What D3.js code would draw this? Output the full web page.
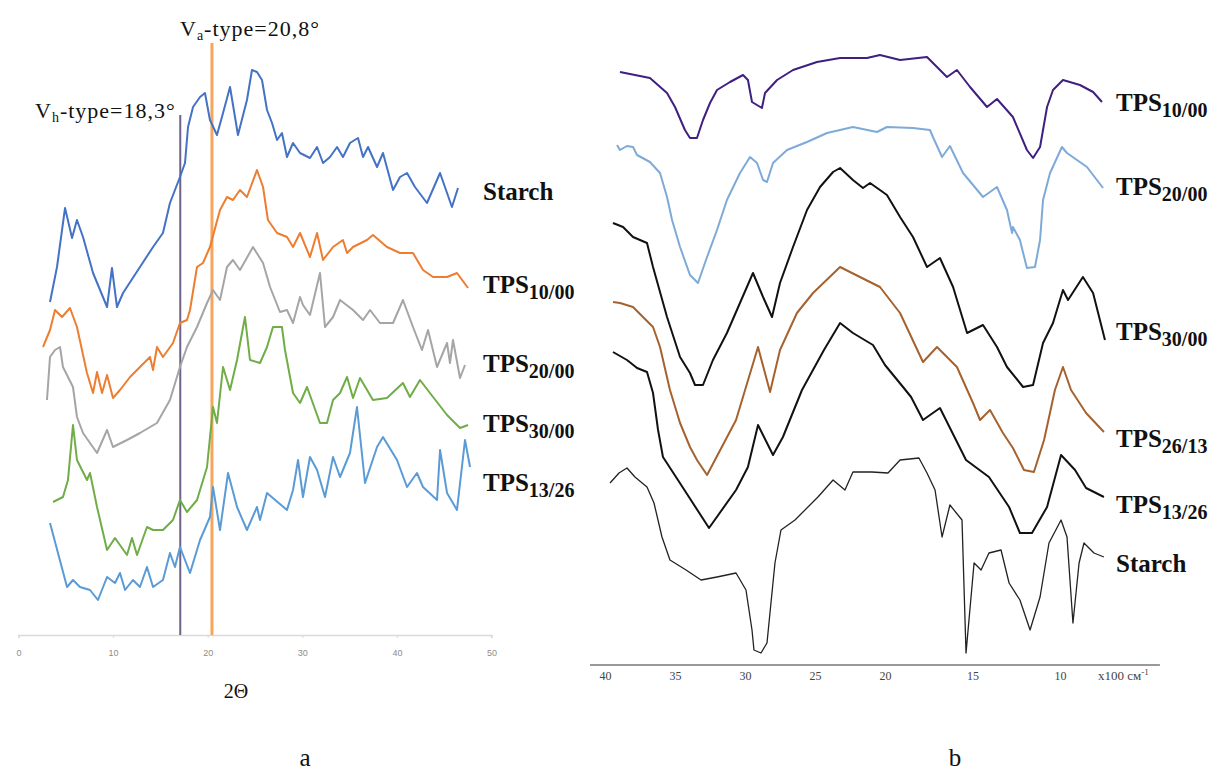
<!DOCTYPE html>
<html>
<head>
<meta charset="utf-8">
<script src="https://cdn.jsdelivr.net/npm/d3@7"></script>
<style>
  body { margin: 0; background: #fff; }
  svg { display: block; }
</style>
</head>
<body>
<div id="chart"></div>
<script>
// ---- panel a: XRD, [2theta, intensity a.u. (offset)] ----
const xrdStarch = [[3.33,333],[4.07,368],[4.92,427],[5.66,397],[6.18,415],[6.82,398],[7.88,362],[9.36,328],[9.88,367],[10.41,328],[11.05,342],[12.84,368],[14.22,388],[15.27,402],[16.01,432],[17.07,458],[17.6,472],[17.92,508],[18.45,528],[19.19,538],[19.71,542],[20.24,515],[20.98,500],[21.62,522],[22.36,548],[23.2,500],[24.15,535],[24.68,565],[25.21,563],[25.74,555],[26.27,525],[26.8,512],[27.33,495],[27.85,502],[28.38,478],[29.02,492],[29.76,482],[30.81,477],[31.56,488],[32.19,472],[32.93,478],[33.67,488],[34.3,478],[35.04,492],[35.89,497],[36.42,478],[36.95,488],[37.9,468],[38.53,482],[39.59,445],[40.33,458],[41.07,462],[41.91,448],[43.18,432],[44.56,462],[45.82,428],[46.46,447]];
const xrdTps1000 = [[2.59,288],[3.33,305],[3.86,325],[4.6,318],[5.44,327],[6.18,308],[7.24,262],[7.88,242],[8.3,263],[8.83,242],[9.36,260],[9.99,237],[10.73,245],[11.79,258],[12.84,268],[13.9,278],[14.22,265],[14.64,288],[15.27,278],[16.33,292],[17.07,312],[17.81,315],[18.13,325],[18.87,368],[19.5,372],[20.24,388],[21.3,425],[22.04,438],[22.67,435],[23.41,445],[24.15,438],[25.21,465],[25.85,448],[26.37,415],[27.33,402],[28.38,398],[29.02,388],[29.76,402],[30.81,378],[31.56,402],[32.19,375],[33.25,388],[34.3,395],[34.73,382],[35.36,388],[36.84,395],[37.47,400],[38.95,388],[40.33,382],[41.7,382],[42.76,365],[43.82,358],[45.3,358],[46.35,362],[47.52,347]];
const xrdTps2000 = [[3.01,235],[3.33,278],[3.86,285],[4.39,288],[4.7,268],[5.76,248],[6.18,218],[6.82,202],[8.3,182],[9.36,205],[9.99,188],[11.47,195],[12.84,202],[14.64,212],[16.01,235],[17.07,268],[17.81,288],[18.87,308],[19.93,332],[20.56,345],[21.3,335],[22.04,368],[22.67,375],[23.41,365],[24.79,388],[25.85,372],[26.59,348],[27.64,323],[28.38,325],[29.02,312],[29.76,338],[30.07,330],[30.81,320],[31.87,362],[32.4,308],[33.25,318],[33.99,335],[35.36,325],[36.42,315],[37.16,325],[38.21,312],[39.59,312],[40.64,335],[41.7,308],[42.65,285],[43.29,305],[44.24,268],[45.3,292],[45.61,272],[45.93,295],[46.67,257],[47.2,270]];
const xrdTps3000 = [[3.65,133],[4.7,138],[5.23,155],[5.76,210],[6.18,175],[7.24,155],[7.56,162],[8.3,128],[9.36,85],[10.2,97],[11.47,80],[12.0,97],[12.53,80],[13.58,108],[14.22,105],[15.27,105],[16.33,115],[17.07,135],[17.81,123],[18.87,135],[19.93,168],[20.56,228],[20.98,212],[21.62,268],[22.36,245],[23.1,275],[23.94,318],[24.47,275],[25.53,272],[26.27,288],[26.9,308],[27.85,308],[28.17,285],[29.02,242],[29.76,232],[30.5,248],[31.87,212],[32.61,212],[33.25,235],[33.99,242],[34.73,258],[35.36,237],[36.1,257],[37.47,235],[38.95,237],[40.64,252],[41.38,238],[42.44,255],[43.82,238],[45.3,220],[46.67,207],[47.52,210]];
const xrdTps1326 = [[3.33,112],[5.13,48],[5.76,55],[6.5,48],[7.56,45],[8.4,35],[9.36,58],[10.2,52],[10.73,62],[11.26,45],[12.1,55],[12.84,48],[13.58,68],[14.22,48],[15.27,55],[16.01,82],[16.54,68],[17.07,88],[18.13,62],[19.19,95],[20.24,118],[20.56,148],[21.3,105],[22.15,162],[23.1,128],[24.15,105],[25.21,128],[25.53,115],[26.27,142],[28.38,125],[29.02,145],[29.55,175],[30.07,138],[30.81,178],[31.56,165],[32.4,138],[33.25,178],[33.99,158],[35.04,182],[35.78,228],[36.63,152],[37.9,188],[38.53,198],[40.01,175],[41.07,148],[42.12,162],[42.76,148],[44.24,135],[44.56,185],[45.3,142],[46.35,125],[47.2,195],[47.73,168]];
const xrdTicks = [0, 10, 20, 30, 40, 50];
// marker lines: [2theta, top intensity]
const vhLine = [17.1, 520];
const vaLine = [20.45, 592];

// ---- panel b: FTIR, [wavenumber x100 cm-1, transmittance a.u. (offset)] ----
const ftirTps1000 = [[38.93,593],[36.79,587],[35.57,572],[35.0,558],[34.29,535],[33.93,527],[33.43,527],[33.0,545],[32.5,562],[32.0,575],[31.07,583],[30.14,590],[29.79,585],[29.5,563],[28.79,557],[28.57,572],[27.71,585],[26.57,595],[24.86,603],[23.21,607],[21.29,607],[20.36,610],[19.14,605],[17.6,608],[16.46,588],[15.89,595],[15.14,578],[14.17,558],[13.6,566],[12.69,548],[11.89,515],[11.54,507],[11.14,518],[10.74,558],[10.4,575],[9.83,585],[8.86,580],[8.11,573],[7.6,563]];
const ftirTps2000 = [[39.14,520],[38.93,515],[38.43,519],[38.0,518],[37.71,510],[36.79,503],[36.07,492],[35.57,468],[35.21,445],[34.64,418],[33.93,390],[33.36,382],[32.71,408],[32.0,435],[31.29,465],[30.36,492],[29.64,508],[29.14,502],[28.71,485],[28.43,483],[28.0,502],[27.0,515],[25.57,523],[24.14,532],[22.29,538],[20.57,533],[19.89,538],[18.4,537],[17.43,535],[17.26,528],[16.74,508],[16.29,519],[15.54,492],[14.4,468],[13.6,478],[13.03,455],[12.74,432],[12.69,438],[12.29,425],[11.89,397],[11.43,398],[11.14,425],[10.97,465],[10.57,492],[9.89,518],[9.6,512],[8.46,498],[7.54,477]];
const ftirTps3000 = [[39.43,442],[38.71,438],[38.0,428],[37.0,422],[36.57,398],[35.57,348],[34.64,308],[33.93,292],[33.57,280],[33.0,280],[32.29,305],[31.29,332],[30.36,362],[29.43,392],[28.71,368],[28.07,348],[27.5,382],[26.57,418],[25.57,455],[24.64,478],[23.71,493],[23.21,497],[22.29,485],[21.57,477],[21.07,482],[20.36,475],[19.89,470],[19.14,448],[18.4,428],[17.6,398],[16.86,407],[16.11,378],[15.31,332],[14.4,340],[13.6,318],[13.03,298],[12.11,278],[11.54,280],[10.97,322],[10.4,342],[9.83,375],[9.54,365],[8.69,388],[8.11,372],[7.43,325]];
const ftirTps2613 = [[39.43,363],[38.93,362],[38.0,358],[37.29,348],[36.57,338],[36.07,318],[35.36,275],[34.64,242],[33.93,218],[33.43,205],[32.71,190],[30.64,245],[29.07,318],[28.21,273],[27.5,315],[26.29,352],[25.14,372],[23.21,398],[21.79,388],[20.36,378],[19.14,352],[17.83,303],[17.03,318],[15.89,298],[14.97,262],[14.57,245],[14.0,255],[13.26,232],[12.69,217],[12.06,195],[11.49,193],[10.91,225],[10.29,275],[9.83,298],[9.37,275],[8.51,252],[7.49,233]];
const ftirTps1326 = [[39.43,313],[38.43,305],[37.71,297],[37.0,293],[36.57,272],[36.21,235],[35.86,208],[34.79,185],[32.57,137],[30.64,175],[29.79,198],[29.07,240],[28.0,210],[27.29,228],[25.93,275],[24.36,315],[23.21,342],[22.29,332],[20.86,320],[20.0,300],[18.97,278],[18.51,268],[17.83,245],[16.86,257],[15.37,205],[14.06,188],[12.91,158],[12.29,132],[11.6,132],[10.74,158],[9.94,210],[9.14,195],[8.51,177],[7.49,168]];
const ftirStarch = [[39.64,182],[39.0,192],[38.43,197],[37.86,188],[37.0,178],[36.5,162],[35.93,128],[35.36,105],[34.21,95],[33.14,85],[32.0,88],[30.64,92],[29.93,75],[29.5,35],[29.36,15],[28.86,12],[28.43,22],[27.86,102],[27.43,135],[26.43,145],[24.79,168],[23.71,185],[22.86,175],[22.29,193],[20.93,193],[19.83,192],[19.14,205],[18.06,207],[17.6,192],[17.14,175],[16.74,128],[16.29,160],[15.6,145],[15.37,12],[14.91,102],[14.51,95],[14.06,112],[13.37,115],[12.91,82],[12.29,65],[11.71,35],[11.14,68],[10.63,122],[9.94,145],[9.6,128],[9.26,42],[8.91,102],[8.63,122],[8.06,112],[7.49,108]];
const ftirTicks = [40, 35, 30, 25, 20, 15, 10];

const xrdNames = [["Starch", ""], ["TPS", "10/00"], ["TPS", "20/00"], ["TPS", "30/00"], ["TPS", "13/26"]];
const ftirNames = [["TPS", "10/00"], ["TPS", "20/00"], ["TPS", "30/00"], ["TPS", "26/13"], ["TPS", "13/26"], ["Starch", ""]];

const width = 1210, height = 776;
const svg = d3.select("#chart").append("svg")
  .attr("width", width)
  .attr("height", height);

const serif = "'Liberation Serif', 'Times New Roman', serif";

// ---------- panel a ----------
const xL = d3.scaleLinear().domain([0, 50]).range([18.5, 491.5]);
const yL = d3.scaleLinear().domain([0, 600]).range([635, 35]);

const lineL = d3.line().x(d => xL(d[0])).y(d => yL(d[1]));

const ga = svg.append("g");

ga.append("g")
  .attr("transform", `translate(0,${yL(0)})`)
  .call(d3.axisBottom(xL).tickValues(xrdTicks).tickSize(3).tickPadding(12))
  .call(g => g.select(".domain").attr("stroke", "#d9d9d9").attr("stroke-width", 1.5))
  .call(g => g.selectAll(".tick line").attr("stroke", "#d9d9d9"))
  .call(g => g.selectAll(".tick text")
    .attr("fill", "#8c8c8c")
    .attr("font-family", "'Liberation Sans', Arial, sans-serif")
    .attr("font-size", 9));

// marker lines
ga.append("line")
  .attr("x1", xL(vhLine[0])).attr("x2", xL(vhLine[0]))
  .attr("y1", yL(vhLine[1])).attr("y2", yL(0))
  .attr("stroke", "#6e6288").attr("stroke-width", 2);
ga.append("line")
  .attr("x1", xL(vaLine[0])).attr("x2", xL(vaLine[0]))
  .attr("y1", yL(vaLine[1])).attr("y2", yL(0))
  .attr("stroke", "#f6a65c").attr("stroke-width", 3);

const xrdSeries = [xrdStarch, xrdTps1000, xrdTps2000, xrdTps3000, xrdTps1326];
const xrdColors = ["#4472c4", "#ed7d31", "#a5a5a5", "#70ad47", "#5b9bd5"];
const xrdLabelY = [200, 293, 372, 432, 491];

ga.selectAll("path.xrd")
  .data(xrdSeries)
  .join("path")
  .attr("class", "xrd")
  .attr("d", lineL)
  .attr("fill", "none")
  .attr("stroke", (d, i) => xrdColors[i])
  .attr("stroke-width", 2)
  .attr("stroke-linejoin", "round");

function label(g, x, y, parts, size, subSize, bold, spacing) {
  const t = g.append("text")
    .attr("x", x).attr("y", y)
    .attr("font-family", serif)
    .attr("font-size", size)
    .attr("font-weight", bold ? "bold" : "normal")
    .attr("letter-spacing", spacing || 0)
    .attr("fill", "#111");
  t.append("tspan").text(parts[0]);
  if (parts[1]) t.append("tspan").attr("font-size", subSize).attr("dy", subSize * 0.3).text(parts[1]);
  if (parts[2]) t.append("tspan").attr("dy", -subSize * 0.3).text(parts[2]);
  return t;
}

xrdNames.forEach((n, i) => label(ga, 483, xrdLabelY[i], n, 25, 20, true));

label(ga, 180, 36, ["V", "a", "-type=20,8°"], 22, 14, false, 1);
label(ga, 35, 118, ["V", "h", "-type=18,3°"], 22, 14, false, 1);

ga.append("text")
  .attr("x", 236).attr("y", 698)
  .attr("text-anchor", "middle")
  .attr("font-family", serif)
  .attr("font-size", 20)
  .attr("fill", "#111")
  .text("2Θ");

ga.append("text")
  .attr("x", 305).attr("y", 766)
  .attr("text-anchor", "middle")
  .attr("font-family", serif)
  .attr("font-size", 25)
  .attr("fill", "#111")
  .text("a");

// ---------- panel b ----------
const xR = d3.scaleLinear().domain([40, 20, 7]).range([605, 885, 1112.5]);
const yR = d3.scaleLinear().domain([0, 620]).range([665, 45]);

const lineR = d3.line().x(d => xR(d[0])).y(d => yR(d[1]));

const gb = svg.append("g");

gb.append("line")
  .attr("x1", xR(41.07)).attr("x2", xR(4.29))
  .attr("y1", yR(0)).attr("y2", yR(0))
  .attr("stroke", "#777").attr("stroke-width", 1.6);

gb.append("g")
  .attr("transform", `translate(0,${yR(0)})`)
  .call(d3.axisBottom(xR).tickValues(ftirTicks).tickSize(0).tickPadding(6))
  .call(g => g.select(".domain").remove())
  .call(g => g.selectAll(".tick text")
    .attr("fill", "#444")
    .attr("font-family", serif)
    .attr("font-size", 12));

const unit = gb.append("text")
  .attr("x", xR(7.83)).attr("y", 680)
  .attr("font-family", serif)
  .attr("font-size", 13)
  .attr("fill", "#444");
unit.append("tspan").text("x100 см");
unit.append("tspan").attr("font-size", 9).attr("dy", -5).text("-1");

const ftirSeries = [ftirTps1000, ftirTps2000, ftirTps3000, ftirTps2613, ftirTps1326, ftirStarch];
const ftirColors = ["#3f1f80", "#7eaad8", "#111111", "#a5622f", "#111111", "#222222"];
const ftirWidths = [2, 2, 2, 2, 2, 1.3];
const ftirLabelY = [111, 195, 340, 447, 513, 572];

gb.selectAll("path.ftir")
  .data(ftirSeries)
  .join("path")
  .attr("class", "ftir")
  .attr("d", lineR)
  .attr("fill", "none")
  .attr("stroke", (d, i) => ftirColors[i])
  .attr("stroke-width", (d, i) => ftirWidths[i])
  .attr("stroke-linejoin", "round");

ftirNames.forEach((n, i) => label(gb, 1116, ftirLabelY[i], n, 25, 20, true));

gb.append("text")
  .attr("x", 955).attr("y", 766)
  .attr("text-anchor", "middle")
  .attr("font-family", serif)
  .attr("font-size", 25)
  .attr("fill", "#111")
  .text("b");
</script>
</body>
</html>
